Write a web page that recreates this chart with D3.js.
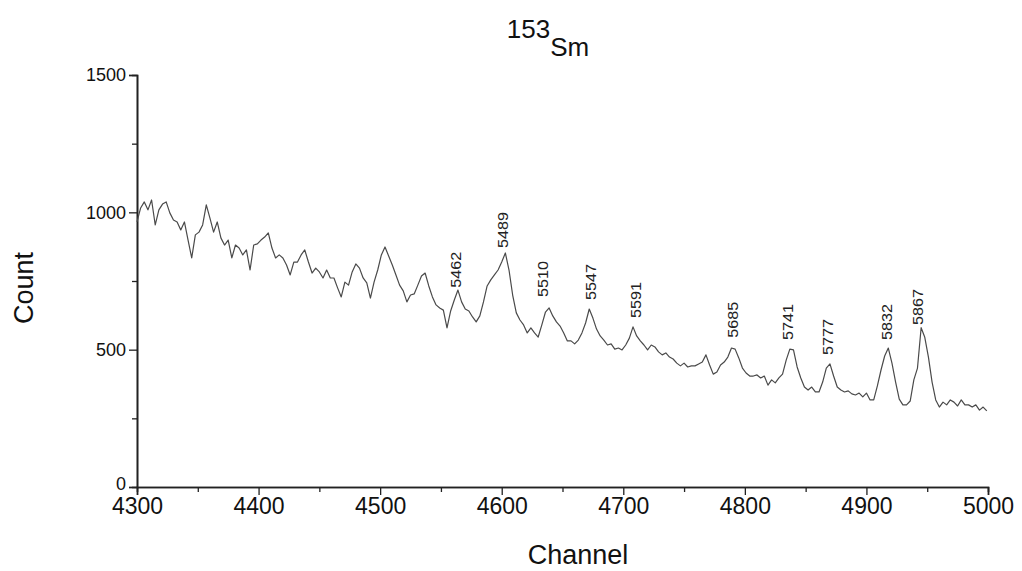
<!DOCTYPE html>
<html>
<head>
<meta charset="utf-8">
<script src="https://cdn.jsdelivr.net/npm/d3@7"></script>
<style>
  html, body { margin: 0; padding: 0; background: #fff; }
  svg { display: block; font-family: "Liberation Sans", Arial, sans-serif; }
</style>
</head>
<body>
<svg id="chart" width="1022" height="571"></svg>
<script>
// ---- data ----
const channelStart = 4300;
const channelStep = 3;
const counts = [
  965,1016,1038,1009,1045,954,1009,1030,1038,998,
  972,965,936,965,899,834,918,928,954,1027,
  979,928,965,907,881,899,834,881,870,845,
  863,790,881,885,899,910,925,870,834,845,
  834,808,772,819,819,845,863,819,779,797,
  783,761,790,761,761,725,692,746,735,783,
  812,797,761,743,688,746,790,845,874,841,
  808,772,735,714,674,699,703,735,768,779,
  732,692,663,652,644,579,641,681,717,674,
  648,641,619,601,623,674,732,754,772,790,
  819,852,790,699,634,608,590,561,579,561,
  546,590,637,652,623,601,586,561,532,532,
  521,535,561,597,648,615,575,550,535,517,
  521,502,506,499,517,542,583,550,532,517,
  499,517,510,492,481,488,473,466,451,441,
  451,437,441,441,448,455,481,444,411,419,
  444,455,473,506,502,470,433,415,404,404,
  408,397,404,371,390,379,397,411,462,502,
  499,437,397,364,353,364,346,346,382,433,
  448,404,364,353,346,350,339,335,342,328,
  342,317,317,368,426,477,506,451,382,320,
  299,299,313,390,433,580,545,473,382,317,
  291,309,299,317,309,295,317,299,299,291,
  299,280,291,277
];
const channels = counts.map((_, i) => channelStart + i * channelStep);

const xTicks = [4300, 4400, 4500, 4600, 4700, 4800, 4900, 5000];
const xMinorTicks = [4350, 4450, 4550, 4650, 4750, 4850, 4950];
const yTicks = [0, 500, 1000, 1500];
const yMinorTicks = [250, 750, 1250];

const peakLabels = ["5462", "5489", "5510", "5547", "5591", "5685", "5741", "5777", "5832", "5867"];
const peakLabelChannel = [4562, 4601, 4634, 4673, 4710, 4790, 4835, 4868, 4917, 4942];
const peakLabelCount = [725, 870, 692, 681, 615, 543, 535, 481, 535, 590];

const titleMass = "153";
const titleElement = "Sm";
const xTitle = "Channel";
const yTitle = "Count";

// ---- drawing ----
const svg = d3.select("#chart");
const x = d3.scaleLinear().domain([4300, 5000]).range([137, 988]);
const y = d3.scaleLinear().domain([0, 1500]).range([487, 75]);
const ink = "#222";
const font = '"Liberation Sans", Arial, sans-serif';

const xAxisMinor = d3.axisBottom(x).tickValues(xMinorTicks).tickSize(5).tickFormat("");
const xAxis = d3.axisBottom(x).tickValues(xTicks).tickSize(8).tickPadding(3).tickFormat(d3.format("d"));
const yAxisMinor = d3.axisLeft(y).tickValues(yMinorTicks).tickSize(5).tickFormat("");
const yAxis = d3.axisLeft(y).tickValues(yTicks).tickSize(8).tickPadding(3).tickFormat(d3.format("d"));

function style(g, fs) {
  g.select(".domain").attr("stroke", ink).attr("stroke-width", 1.6);
  g.selectAll(".tick line").attr("stroke", ink).attr("stroke-width", 1.3);
  g.selectAll(".tick text").attr("fill", "#111").style("font-size", fs + "px").style("font-family", font);
}

svg.append("g").attr("transform", "translate(0,487)").call(xAxisMinor).call(g => style(g, 20));
svg.append("g").attr("transform", "translate(0,487)").call(xAxis).call(g => style(g, 23));
svg.append("g").attr("transform", "translate(137,0)").call(yAxisMinor).call(g => style(g, 18));
svg.append("g").attr("transform", "translate(137,0)").call(yAxis).call(g => style(g, 18))
  .call(g => g.selectAll(".tick text").filter(d => d === 0).attr("dy", "0.12em"));

// spectrum line
const line = d3.line().x((d, i) => x(channels[i])).y(d => y(d));
svg.append("path")
  .datum(counts)
  .attr("fill", "none")
  .attr("stroke", "#4a4a4a")
  .attr("stroke-width", 1.2)
  .attr("stroke-linejoin", "round")
  .attr("d", line);

// peak labels
svg.append("g").selectAll("text")
  .data(peakLabels)
  .join("text")
  .attr("transform", (d, i) => `translate(${x(peakLabelChannel[i])},${y(peakLabelCount[i])}) rotate(-90)`)
  .attr("dy", "0.35em")
  .attr("text-anchor", "start")
  .attr("fill", "#222")
  .attr("textLength", 36)
  .attr("lengthAdjust", "spacingAndGlyphs")
  .style("font-size", "15px")
  .text(d => d);

// title
const title = svg.append("text")
  .attr("x", 548)
  .attr("y", 56)
  .attr("text-anchor", "middle")
  .attr("fill", "#111")
  .style("font-size", "26px");
title.append("tspan").attr("dy", -18).text(titleMass);
title.append("tspan").attr("dy", 18).text(titleElement);

// axis titles
svg.append("text")
  .attr("x", 578)
  .attr("y", 564)
  .attr("text-anchor", "middle")
  .attr("fill", "#111")
  .style("font-size", "27px")
  .text(xTitle);

svg.append("text")
  .attr("transform", `translate(33,288) rotate(-90)`)
  .attr("text-anchor", "middle")
  .attr("fill", "#111")
  .style("font-size", "27px")
  .text(yTitle);
</script>
</body>
</html>
